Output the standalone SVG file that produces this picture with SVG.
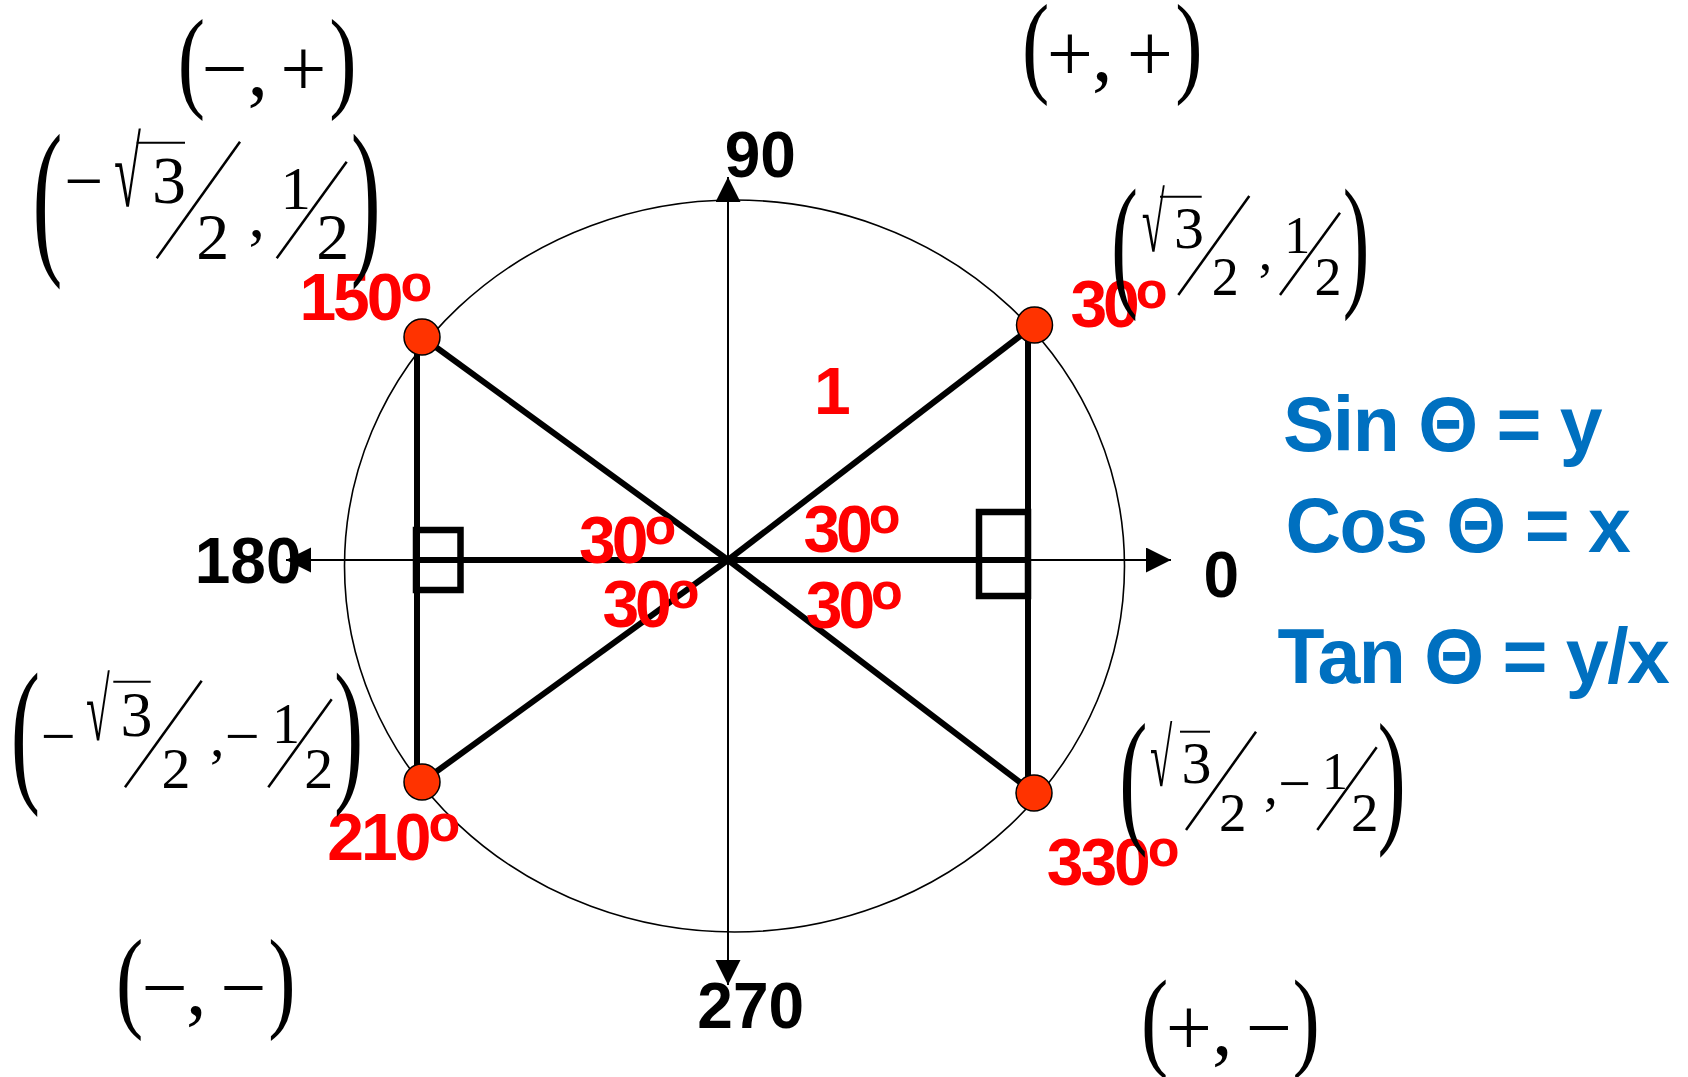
<svg xmlns="http://www.w3.org/2000/svg" width="1688" height="1077" viewBox="0 0 1688 1077">
<defs>
<marker id="arr" markerUnits="userSpaceOnUse" markerWidth="26" markerHeight="26" refX="25" refY="12.5" orient="auto-start-reverse" viewBox="0 0 26 26">
<path d="M0,0 L25,12.5 L0,25 z" fill="#000"/>
</marker>
<style>
.ax{stroke:#000;stroke-width:2;fill:none}
.thick{stroke:#000;stroke-width:6;fill:none}
.sq{stroke:#000;stroke-width:6.5;fill:none}
.dot{fill:#FF3300;stroke:#000;stroke-width:1.5}
.red{font-family:"Liberation Sans",Arial,sans-serif;font-weight:bold;font-size:66px;fill:#FF0000;letter-spacing:-4px}
.red3{letter-spacing:-3px}
.deg{font-size:52px}
.blk{font-family:"Liberation Sans",Arial,sans-serif;font-weight:bold;font-size:64px;fill:#000}
.blue{font-family:"Liberation Sans",Arial,sans-serif;font-weight:bold;font-size:77px;fill:#0070C0;letter-spacing:-1.5px}
.tm{font-family:"Liberation Serif","Times New Roman",serif;fill:#000}
.sl{stroke:#000;stroke-width:2.5}
.ob{stroke:#000;stroke-width:2}
</style>
</defs>
<rect width="1688" height="1077" fill="#fff"/>

<g id="circle">
<ellipse cx="734.5" cy="566" rx="390" ry="366" fill="none" stroke="#000" stroke-width="1.6"/>
</g>

<g id="connectors">
<line class="ax" x1="728" y1="985" x2="728" y2="177" marker-start="url(#arr)" marker-end="url(#arr)"/>
<line class="ax" x1="286" y1="560" x2="1171" y2="560" marker-start="url(#arr)" marker-end="url(#arr)"/>
<line class="thick" x1="417" y1="337" x2="417" y2="782"/>
<line class="thick" x1="1028" y1="325" x2="1028" y2="793"/>
<line class="thick" x1="417" y1="560" x2="1028" y2="560"/>
<line class="thick" x1="728" y1="560" x2="422" y2="337"/>
<line class="thick" x1="728" y1="560" x2="1034.5" y2="325"/>
<line class="thick" x1="728" y1="560" x2="422" y2="782"/>
<line class="thick" x1="728" y1="560" x2="1034" y2="793"/>
<rect class="sq" x="416" y="530" width="44.5" height="60"/>
<rect class="sq" x="979" y="512" width="49" height="84"/>
</g>

<g id="axis-labels">
<text class="blk" x="724.7" y="177">90</text>
<text class="blk" x="194.7" y="583">180</text>
<text class="blk" x="1203.4" y="597">0</text>
<text class="blk" x="697.3" y="1028">270</text>
</g>

<g id="node-150">
<circle class="dot" cx="422" cy="337" r="18"/>
<text class="red red3" x="299.4" y="320">150<tspan class="deg" dy="-19">o</tspan></text>
</g>
<g id="node-30">
<circle class="dot" cx="1034.5" cy="325" r="18"/>
<text class="red" x="1070.4" y="327">30<tspan class="deg" dy="-19">o</tspan></text>
</g>
<g id="node-210">
<circle class="dot" cx="422" cy="782" r="18"/>
<text class="red red3" x="327.3" y="860">210<tspan class="deg" dy="-19">o</tspan></text>
</g>
<g id="node-330">
<circle class="dot" cx="1034" cy="793" r="18"/>
<text class="red red3" x="1046.7" y="885">330<tspan class="deg" dy="-19">o</tspan></text>
</g>

<g id="angle-labels">
<text class="red" x="814" y="414" font-size="64">1</text>
<text class="red" x="579" y="563">30<tspan class="deg" dy="-19">o</tspan></text>
<text class="red" x="602.4" y="627">30<tspan class="deg" dy="-19">o</tspan></text>
<text class="red" x="803.4" y="552">30<tspan class="deg" dy="-19">o</tspan></text>
<text class="red" x="805.7" y="628">30<tspan class="deg" dy="-19">o</tspan></text>
</g>

<g id="formulas">
<text class="blue" x="1283" y="451">Sin Θ = y</text>
<text class="blue" x="1285.5" y="552">Cos Θ = x</text>
<text class="blue" x="1277.6" y="683">Tan Θ = y/x</text>
</g>

<g id="sign-q2">
<text class="tm" font-size="82" transform="translate(177.8,97.4) scale(1,1.37)">(</text>
<text class="tm" font-size="82" transform="translate(329.3,97.4) scale(1,1.37)">)</text>
<text class="tm" font-size="82" x="201.5 247.4 280.2" y="96">−,+</text>
</g>
<g id="sign-q1">
<text class="tm" font-size="82" transform="translate(1022,82) scale(1,1.358)">(</text>
<text class="tm" font-size="82" transform="translate(1175.3,82) scale(1,1.358)">)</text>
<text class="tm" font-size="82" x="1046.8 1092.1 1126.8" y="80.7">+,+</text>
</g>
<g id="sign-q3">
<text class="tm" font-size="82" transform="translate(116,1017) scale(1,1.358)">(</text>
<text class="tm" font-size="82" transform="translate(268.3,1017) scale(1,1.358)">)</text>
<text class="tm" font-size="82" x="141.5 186.1 220.2" y="1015">−,−</text>
</g>
<g id="sign-q4">
<text class="tm" font-size="82" transform="translate(1141,1056.2) scale(1,1.344)">(</text>
<text class="tm" font-size="82" transform="translate(1292.6,1056.2) scale(1,1.344)">)</text>
<text class="tm" font-size="82" x="1165.8 1212.1 1245.8" y="1055">+,−</text>
</g>

<g id="coord-150">
<text class="tm" font-size="90" transform="translate(32.4,252.8) scale(1,1.915)">(</text>
<text class="tm" font-size="90" transform="translate(350.7,252.8) scale(1,1.915)">)</text>
<text class="tm" font-size="69" x="64.6" y="204.2">−</text>
<text class="tm" font-size="70" transform="translate(114,206) scale(0.7,1.4)">√</text>
<line class="ob" x1="136.7" y1="142.7" x2="185" y2="142.7"/>
<text class="tm" font-size="68" x="152.1" y="203">3</text>
<line class="sl" x1="156.7" y1="258.3" x2="240" y2="141.7"/>
<text class="tm" font-size="66" x="196.3" y="259">2</text>
<text class="tm" font-size="66" x="248.6" y="237">,</text>
<text class="tm" font-size="61" x="280.5" y="209.3">1</text>
<line class="sl" x1="276.7" y1="258.3" x2="346.7" y2="161.7"/>
<text class="tm" font-size="66" x="316.3" y="259.3">2</text>
</g>

<g id="coord-30">
<text class="tm" font-size="80" transform="translate(1111.2,290.2) scale(1,1.821)">(</text>
<text class="tm" font-size="80" transform="translate(1342.7,290.2) scale(1,1.821)">)</text>
<text class="tm" font-size="60" transform="translate(1141.7,251) scale(0.7,1.39)">√</text>
<line class="ob" x1="1160" y1="196.7" x2="1201.7" y2="196.7"/>
<text class="tm" font-size="60" x="1174.1" y="247.5">3</text>
<line class="sl" x1="1178.3" y1="295" x2="1249.3" y2="196"/>
<text class="tm" font-size="54" x="1211.7" y="295">2</text>
<text class="tm" font-size="54" x="1258.7" y="270">,</text>
<text class="tm" font-size="52" x="1284.2" y="253.3">1</text>
<line class="sl" x1="1280" y1="295" x2="1340" y2="212.7"/>
<text class="tm" font-size="54" x="1314.4" y="295">2</text>
</g>

<g id="coord-210">
<text class="tm" font-size="88" transform="translate(10.8,782.5) scale(1,1.808)">(</text>
<text class="tm" font-size="88" transform="translate(334.1,782.5) scale(1,1.808)">)</text>
<text class="tm" font-size="62" x="40.8" y="757.4">−</text>
<text class="tm" font-size="62" transform="translate(86,739.5) scale(0.7,1.42)">√</text>
<line class="ob" x1="113.3" y1="681.7" x2="150.7" y2="681.7"/>
<text class="tm" font-size="64" x="120.6" y="736.4">3</text>
<line class="sl" x1="125" y1="787.3" x2="201.7" y2="680.7"/>
<text class="tm" font-size="58" x="161.6" y="788.3">2</text>
<text class="tm" font-size="58" x="210" y="756">,</text>
<text class="tm" font-size="62" x="224.8" y="757.4">−</text>
<text class="tm" font-size="56" x="272.1" y="742.7">1</text>
<line class="sl" x1="268.3" y1="787.3" x2="331.7" y2="699.3"/>
<text class="tm" font-size="58" x="304.3" y="788.3">2</text>
</g>

<g id="coord-330">
<text class="tm" font-size="85" transform="translate(1119.2,825.6) scale(1,1.734)">(</text>
<text class="tm" font-size="85" transform="translate(1377.5,825.6) scale(1,1.734)">)</text>
<text class="tm" font-size="58" transform="translate(1150,785.5) scale(0.7,1.41)">√</text>
<line class="ob" x1="1180" y1="731.7" x2="1210" y2="731.7"/>
<text class="tm" font-size="60" x="1181.4" y="783.2">3</text>
<line class="sl" x1="1186" y1="830" x2="1256" y2="731.7"/>
<text class="tm" font-size="55" x="1219" y="830.7">2</text>
<text class="tm" font-size="55" x="1264" y="804">,</text>
<text class="tm" font-size="58" x="1278.3" y="803">−</text>
<text class="tm" font-size="52" x="1321.9" y="789.3">1</text>
<line class="sl" x1="1317.3" y1="830" x2="1376.7" y2="747.3"/>
<text class="tm" font-size="55" x="1351" y="830.7">2</text>
</g>
</svg>
